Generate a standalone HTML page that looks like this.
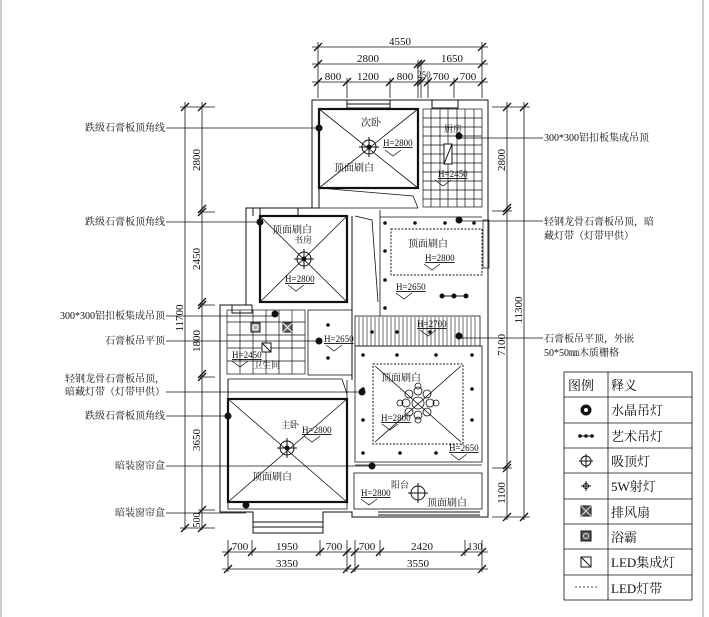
<!DOCTYPE html>
<html><head><meta charset="utf-8"><style>
body{margin:0;background:#fff}
svg{display:block}
text{font-family:"Liberation Serif","Noto Serif CJK SC","Noto Sans CJK SC",serif;fill:#111}
.t{font-size:10px}
.d{font-size:11px}
</style></head><body>
<svg width="709" height="617" viewBox="0 0 709 617" xmlns="http://www.w3.org/2000/svg" stroke="#111" fill="none" stroke-width="1">
<line x1="1" y1="0" x2="1" y2="617" stroke="#999"/>
<line x1="703" y1="0" x2="703" y2="617" stroke="#999"/>
<!-- top dims -->
<g stroke-width="0.8">
<line x1="312" y1="47" x2="488" y2="47"/>
<line x1="312" y1="64" x2="488" y2="64"/>
<line x1="312" y1="82" x2="488" y2="82"/>
<line x1="318" y1="42" x2="318" y2="98"/><line x1="482" y1="42" x2="482" y2="98"/>
<line x1="418" y1="60" x2="418" y2="98"/><line x1="421" y1="60" x2="421" y2="98"/>
<line x1="347" y1="78" x2="347" y2="98"/><line x1="390" y1="78" x2="390" y2="98"/>
<line x1="428" y1="78" x2="428" y2="98"/><line x1="454" y1="78" x2="454" y2="98"/>
</g>
<g stroke-width="1.3">
<path d="M314 51l8-8M478 51l8-8M314 68l8-8M478 68l8-8M414 68l8-8M417 68l8-8M314 86l8-8M343 86l8-8M386 86l8-8M414 86l8-8M417 86l8-8M424 86l8-8M450 86l8-8M478 86l8-8"/>
</g>
<text class="d" x="400" y="45" text-anchor="middle" stroke="none">4550</text>
<text class="d" x="368" y="62" text-anchor="middle" stroke="none">2800</text>
<text class="d" x="452" y="62" text-anchor="middle" stroke="none">1650</text>
<text class="d" x="333" y="80" text-anchor="middle" stroke="none">800</text>
<text class="d" x="368" y="80" text-anchor="middle" stroke="none">1200</text>
<text class="d" x="405" y="80" text-anchor="middle" stroke="none">800</text>
<text class="d" x="424" y="78" text-anchor="middle" stroke="none" style="font-size:9px">250</text>
<text class="d" x="441" y="80" text-anchor="middle" stroke="none">700</text>
<text class="d" x="468" y="80" text-anchor="middle" stroke="none">700</text>
<!-- left dims -->
<g stroke-width="0.8">
<line x1="185" y1="102" x2="185" y2="530"/>
<line x1="202" y1="102" x2="202" y2="530"/>
<line x1="180" y1="107" x2="215" y2="107"/>
<line x1="198" y1="212" x2="215" y2="212"/>
<line x1="198" y1="305" x2="215" y2="305"/>
<line x1="198" y1="377" x2="215" y2="377"/>
<line x1="198" y1="510" x2="215" y2="510"/>
<line x1="180" y1="528" x2="215" y2="528"/>
</g>
<path stroke-width="1.3" d="M181 111l8-8M198 111l8-8M198 216l8-8M198 213l8-8M198 309l8-8M198 306l8-8M198 381l8-8M198 378l8-8M198 514l8-8M181 532l8-8M198 532l8-8"/>
<g stroke="none" class="d">
<text transform="translate(200,160) rotate(-90)" text-anchor="middle">2800</text>
<text transform="translate(200,259) rotate(-90)" text-anchor="middle">2450</text>
<text transform="translate(200,341) rotate(-90)" text-anchor="middle">1800</text>
<text transform="translate(200,440) rotate(-90)" text-anchor="middle">3650</text>
<text transform="translate(200,520) rotate(-90)" text-anchor="middle" style="font-size:10px">500</text>
<text transform="translate(183,318) rotate(-90)" text-anchor="middle">11700</text>
</g>
<!-- right dims -->
<g stroke-width="0.8">
<line x1="507" y1="102" x2="507" y2="520"/>
<line x1="524" y1="102" x2="524" y2="520"/>
<line x1="492" y1="107" x2="530" y2="107"/>
<line x1="492" y1="211" x2="512" y2="211"/>
<line x1="492" y1="468" x2="512" y2="468"/>
<line x1="492" y1="517" x2="530" y2="517"/>
</g>
<path stroke-width="1.3" d="M503 111l8-8M520 111l8-8M503 215l8-8M503 212l8-8M503 472l8-8M503 469l8-8M503 521l8-8M520 521l8-8"/>
<g stroke="none" class="d">
<text transform="translate(505,160) rotate(-90)" text-anchor="middle">2800</text>
<text transform="translate(505,345) rotate(-90)" text-anchor="middle">7100</text>
<text transform="translate(505,493) rotate(-90)" text-anchor="middle">1100</text>
<text transform="translate(522,310) rotate(-90)" text-anchor="middle">11300</text>
</g>
<!-- bottom dims -->
<g stroke-width="0.8">
<line x1="222" y1="552" x2="488" y2="552"/>
<line x1="222" y1="569" x2="488" y2="569"/>
<line x1="228" y1="540" x2="228" y2="572"/><line x1="252" y1="540" x2="252" y2="556"/>
<line x1="320" y1="540" x2="320" y2="556"/><line x1="347" y1="540" x2="347" y2="572"/>
<line x1="355" y1="540" x2="355" y2="572"/><line x1="380" y1="540" x2="380" y2="556"/>
<line x1="465" y1="540" x2="465" y2="556"/><line x1="482" y1="540" x2="482" y2="572"/>
</g>
<path stroke-width="1.3" d="M224 556l8-8M248 556l8-8M316 556l8-8M343 556l8-8M351 556l8-8M376 556l8-8M461 556l8-8M478 556l8-8M224 573l8-8M343 573l8-8M351 573l8-8M478 573l8-8"/>
<g stroke="none" class="d" text-anchor="middle">
<text x="240" y="550">700</text><text x="287" y="550">1950</text><text x="334" y="550">700</text>
<text x="367" y="550">700</text><text x="422" y="550">2420</text><text x="475" y="550" style="font-size:10px">130</text>
<text x="287" y="567">3350</text><text x="418" y="567">3550</text>
</g>
<!-- outer walls -->
<g stroke-width="1">
<path d="M312 100H488V517H352V512H323V533H253V512H220V305H246V208H312Z"/>
<path d="M319 109H418M319 109V208H253V216"/>
<rect x="347" y="100" width="43" height="8"/><line x1="347" y1="104" x2="390" y2="104"/>
<rect x="432" y="100" width="26" height="8"/>
<rect x="260" y="208" width="38" height="8"/>
<rect x="232" y="305" width="20" height="8"/>
<rect x="253" y="522" width="70" height="11"/><line x1="253" y1="527" x2="323" y2="527"/>
<line x1="378" y1="512" x2="480" y2="512"/><line x1="378" y1="515" x2="480" y2="515"/>
</g>
<!-- second bedroom -->
<rect x="319" y="109" width="99" height="79" stroke-width="2.2"/>
<path d="M319 109L418 188M418 109L319 188" stroke-width="0.8"/>
<path d="M319 188L413 196L418 208" stroke-width="0.8"/>
<line x1="319" y1="208" x2="418" y2="208" stroke-width="0.8"/>
<!-- kitchen grid -->
<g stroke-width="0.7">
<rect x="423" y="109" width="59" height="98"/>
<path d="M431 109V207M440 109V207M448 109V207M457 109V207M465 109V207M474 109V207"/>
<path d="M423 118H482M423 127H482M423 136H482M423 145H482M423 154H482M423 163H482M423 172H482M423 181H482M423 190H482M423 199H482"/>
</g>
<rect x="444" y="144" width="8" height="20" fill="#fff" stroke-width="1"/><line x1="444" y1="164" x2="452" y2="144"/>
<!-- study -->
<rect x="260" y="216" width="87" height="86" stroke-width="2.2"/>
<path d="M260 216L347 302M347 216L260 302" stroke-width="0.8"/>
<path d="M355 216L372 220L378 302" stroke-width="0.8"/>
<line x1="352" y1="216" x2="352" y2="380"/>
<!-- living upper -->
<path d="M380 210V316M380 217H482" stroke-width="0.8"/>
<rect x="391" y="229" width="91" height="46" stroke-dasharray="2,1.5"/>
<rect x="483" y="220" width="6" height="48" stroke-width="0.7"/>
<!-- bathroom -->
<g stroke-width="0.7">
<rect x="227" y="310" width="78" height="64"/>
<path d="M240 310V374M253 310V374M266 310V374M279 310V374M292 310V374M227 322H305M227 335H305M227 348H305M227 361H305"/>
</g>
<rect x="251" y="323" width="9" height="9" fill="#aaa"/><circle cx="255.5" cy="327.5" r="2.5" stroke="#fff"/>
<rect x="283" y="323" width="9" height="9" fill="#666"/><path d="M283 323l9 9M292 323l-9 9" stroke="#fff"/>
<rect x="262" y="343" width="9" height="9" fill="#fff"/><line x1="262" y1="343" x2="271" y2="352"/>
<!-- corridor small -->
<rect x="308" y="310" width="44" height="65" stroke-width="0.8"/>
<!-- striped band -->
<rect x="355" y="316" width="125" height="30" stroke-width="0.8"/>
<g stroke-width="0.6"><path d="M359 317v29M363 317v29M367 317v29M371 317v29M375 317v29M379 317v29M383 317v29M387 317v29M391 317v29M395 317v29M399 317v29M403 317v29M407 317v29M411 317v29M415 317v29M419 317v29M423 317v29M427 317v29M431 317v29M435 317v29M439 317v29M443 317v29M447 317v29M451 317v29M455 317v29M459 317v29M463 317v29M467 317v29M471 317v29M475 317v29"/></g>
<!-- living lower -->
<rect x="355" y="346" width="127" height="116" stroke-width="0.8"/>
<rect x="373" y="364" width="90" height="80" stroke-dasharray="2,1.5"/>
<path d="M375 366L461 442M461 366L375 442" stroke-width="0.8"/>
<!-- master bedroom -->
<path d="M228 379H342L347 394" stroke-width="0.8"/>
<line x1="228" y1="379" x2="228" y2="399"/>
<rect x="228" y="399" width="119" height="103" stroke-width="2.2"/>
<path d="M228 399L347 502M347 399L228 502" stroke-width="0.8"/>
<path d="M228 502V509H347V380" stroke-width="0.8"/>
<!-- balcony -->
<rect x="354" y="473" width="128" height="36" stroke-width="0.8"/>
<line x1="355" y1="465" x2="482" y2="465" stroke-width="0.8"/>
<!-- lamps -->
<g stroke-width="1">
<circle cx="369" cy="147" r="7"/><path d="M359 147H379M369 137V157"/><circle cx="369" cy="147" r="2" fill="#111"/>
<circle cx="304" cy="259" r="7"/><path d="M294 259H314M304 249V269"/><circle cx="304" cy="259" r="2" fill="#111"/>
<circle cx="287" cy="448" r="7"/><path d="M277 448H297M287 438V458"/><circle cx="287" cy="448" r="2" fill="#111"/>
<circle cx="418" cy="493" r="7"/><path d="M408 493H428M418 483V503"/>
</g>
<!-- chandelier -->
<g stroke-width="0.8">
<circle cx="418" cy="403" r="6"/><circle cx="418" cy="391" r="4"/><circle cx="418" cy="415" r="4"/><circle cx="406" cy="403" r="4"/><circle cx="430" cy="403" r="4"/>
<circle cx="409" cy="394" r="4"/><circle cx="427" cy="394" r="4"/><circle cx="409" cy="412" r="4"/><circle cx="427" cy="412" r="4"/>
<circle cx="418" cy="386" r="3"/><circle cx="418" cy="420" r="3"/><circle cx="400" cy="403" r="3"/><circle cx="436" cy="403" r="3"/>
</g>
<!-- spot lights -->
<g fill="#111" stroke="none">
<circle cx="385" cy="223" r="1.8"/><circle cx="415" cy="223" r="1.8"/><circle cx="445" cy="223" r="1.8"/><circle cx="474" cy="223" r="1.8"/>
<circle cx="385" cy="251" r="1.8"/><circle cx="385" cy="280" r="1.8"/><circle cx="385" cy="308" r="1.8"/>
<circle cx="372" cy="332" r="1.8"/><circle cx="397" cy="332" r="1.8"/><circle cx="430" cy="332" r="1.8"/>
<circle cx="328" cy="325" r="1.8"/><circle cx="328" cy="358" r="1.8"/>
<circle cx="363" cy="355" r="1.8"/><circle cx="397" cy="355" r="1.8"/><circle cx="436" cy="355" r="1.8"/><circle cx="472" cy="355" r="1.8"/>
<circle cx="363" cy="389" r="1.8"/><circle cx="472" cy="389" r="1.8"/><circle cx="363" cy="420" r="1.8"/><circle cx="472" cy="420" r="1.8"/>
<circle cx="363" cy="453" r="1.8"/><circle cx="400" cy="453" r="1.8"/><circle cx="436" cy="453" r="1.8"/>
<circle cx="442" cy="296" r="2.5"/><circle cx="454" cy="296" r="2.5"/><circle cx="466" cy="296" r="2.5"/>
</g>
<line x1="440" y1="296" x2="468" y2="296"/>
<!-- leader lines & dots -->
<g stroke-width="0.8">
<line x1="166" y1="128" x2="319" y2="128"/>
<line x1="166" y1="222" x2="260" y2="222"/>
<line x1="166" y1="316" x2="275" y2="316"/>
<line x1="166" y1="341" x2="319" y2="341"/>
<line x1="166" y1="392" x2="362" y2="392"/>
<line x1="166" y1="416" x2="228" y2="416"/>
<line x1="166" y1="466" x2="372" y2="466"/>
<line x1="166" y1="513" x2="246" y2="513"/>
<line x1="459" y1="138" x2="543" y2="138"/>
<line x1="459" y1="221" x2="543" y2="221"/>
<line x1="459" y1="338" x2="543" y2="338"/>
</g>
<g fill="#111" stroke="none">
<circle cx="319" cy="128" r="3.5"/><circle cx="260" cy="222" r="3.5"/><circle cx="275" cy="314" r="3.5"/>
<circle cx="319" cy="341" r="3.5"/><circle cx="362" cy="392" r="3.5"/><circle cx="228" cy="416" r="3.5"/>
<circle cx="372" cy="466" r="3.5"/><circle cx="246" cy="505" r="3.5"/>
<circle cx="459" cy="136" r="3.5"/><circle cx="459" cy="220" r="3.5"/><circle cx="459" cy="336" r="3.5"/>
</g>
<!-- room labels -->
<g stroke="none" class="t">
<text x="361" y="126">次卧</text>
<text x="334" y="171">顶面刷白</text>
<text x="383" y="146" style="font-size:9px" text-decoration="underline">H=2800</text>
<text x="444" y="132" style="font-size:9px">厨房</text>
<text x="438" y="177" style="font-size:9px" text-decoration="underline">H=2450</text>
<text x="272" y="233">顶面刷白</text>
<text x="294" y="243" style="font-size:9px">书房</text>
<text x="285" y="282" style="font-size:9px" text-decoration="underline">H=2800</text>
<text x="408" y="247">顶面刷白</text>
<text x="425" y="261" style="font-size:9px" text-decoration="underline">H=2800</text>
<text x="396" y="290" style="font-size:9px" text-decoration="underline">H=2650</text>
<text x="417" y="327" style="font-size:9px" text-decoration="underline">H=2700</text>
<text x="324" y="342" style="font-size:9px" text-decoration="underline">H=2650</text>
<text x="232" y="358" style="font-size:9px" text-decoration="underline">H=2450</text>
<text x="253" y="368" style="font-size:9px">卫生间</text>
<text x="381" y="381">顶面刷白</text>
<text x="381" y="421" style="font-size:9px" text-decoration="underline">H=2800</text>
<text x="449" y="451" style="font-size:9px" text-decoration="underline">H=2650</text>
<text x="281" y="428" style="font-size:9px">主卧</text>
<text x="302" y="433" style="font-size:9px" text-decoration="underline">H=2800</text>
<text x="252" y="480">顶面刷白</text>
<text x="391" y="488" style="font-size:9px">阳台</text>
<text x="361" y="496" style="font-size:9px" text-decoration="underline">H=2800</text>
<text x="427" y="506">顶面刷白</text>
</g>
<!-- level triangles -->
<g stroke-width="0.7">
<path d="M385 150l8 6 8-6M435 180l8 6 8-6M288 285l8 6 8-6M424 264l8 6 8-6M396 293l8 6 8-6M420 330l8 6 8-6M326 345l8 6 8-6M232 361l8 6 8-6M382 424l8 6 8-6M451 454l8 6 8-6M304 436l8 6 8-6M361 499l8 6 8-6"/>
</g>
<!-- annotation texts -->
<g stroke="none" class="t" text-anchor="end">
<text x="165" y="131">跌级石膏板顶角线</text>
<text x="165" y="225">跌级石膏板顶角线</text>
<text x="165" y="319">300*300铝扣板集成吊顶</text>
<text x="165" y="344">石膏板吊平顶</text>
<text x="165" y="382">轻钢龙骨石膏板吊顶，</text>
<text x="165" y="395">暗藏灯带（灯带甲供）</text>
<text x="165" y="419">跌级石膏板顶角线</text>
<text x="165" y="469">暗装窗帘盒</text>
<text x="165" y="516">暗装窗帘盒</text>
</g>
<g stroke="none" class="t">
<text x="544" y="141">300*300铝扣板集成吊顶</text>
<text x="544" y="225">轻钢龙骨石膏板吊顶，暗</text>
<text x="544" y="239">藏灯带（灯带甲供）</text>
<text x="544" y="342">石膏板吊平顶，外嵌</text>
<text x="544" y="356">50*50㎜木质栅格</text>
</g>
<!-- legend -->
<g stroke-width="0.8">
<rect x="564" y="372" width="128" height="228"/>
<line x1="608" y1="372" x2="608" y2="600"/>
<path d="M564 397H692M564 423H692M564 448H692M564 473H692M564 499H692M564 524H692M564 549H692M564 575H692"/>
</g>
<g stroke="none" style="font-size:13px" font-family="Liberation Serif,Noto Serif CJK SC,serif">
<text x="568" y="390">图例</text><text x="611" y="390">释义</text>
<text x="611" y="415">水晶吊灯</text><text x="611" y="441">艺术吊灯</text><text x="611" y="466">吸顶灯</text>
<text x="611" y="491">5W射灯</text><text x="611" y="517">排风扇</text><text x="611" y="542">浴霸</text>
<text x="611" y="567">LED集成灯</text><text x="611" y="593">LED灯带</text>
</g>
<g>
<circle cx="586" cy="410" r="5" fill="#111"/><circle cx="586" cy="410" r="2" fill="#fff" stroke="none"/>
<line x1="578" y1="436" x2="594" y2="436"/><g fill="#111" stroke="none"><circle cx="580" cy="436" r="1.8"/><circle cx="586" cy="436" r="1.8"/><circle cx="592" cy="436" r="1.8"/></g>
<circle cx="586" cy="461" r="5"/><path d="M579 461H593M586 454V468"/>
<circle cx="586" cy="486" r="2.5"/><path d="M581 486H591M586 481V491"/>
<rect x="581" y="506" width="10" height="10" fill="#555"/><path d="M581 506l10 10M591 506l-10 10" stroke="#ddd"/>
<rect x="581" y="531" width="10" height="10" fill="#555"/><circle cx="586" cy="536" r="2.5" stroke="#ddd"/>
<rect x="581" y="557" width="10" height="10"/><line x1="581" y1="557" x2="591" y2="567"/>
<line x1="575" y1="587" x2="598" y2="587" stroke-dasharray="2,2" stroke-width="0.7"/>
</g>
</svg>
</body></html>
